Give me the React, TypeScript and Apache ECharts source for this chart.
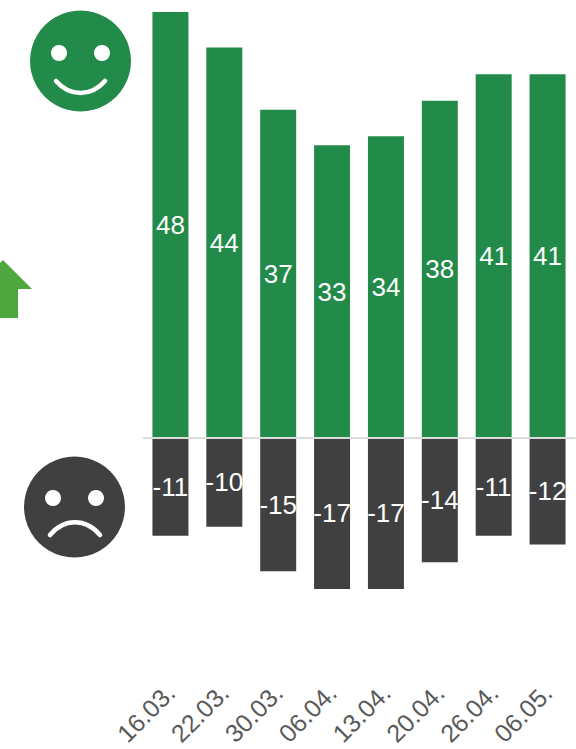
import React, { useEffect, useRef } from "react";
import * as echarts from "echarts";

const categories = ["16.03.", "22.03.", "30.03.", "06.04.", "13.04.", "20.04.", "26.04.", "06.05."];
const positiveValues = [48, 44, 37, 33, 34, 38, 41, 41];
const negativeValues = [-11, -10, -15, -17, -17, -14, -11, -12];

const GREEN = "#238b49";
const DARK = "#404040";

export default function App() {
  const ref = useRef<HTMLDivElement>(null);
  useEffect(() => {
    const chart = echarts.init(ref.current!, null, { renderer: "svg" });
    const label = {
      show: true,
      position: "inside",
      color: "#ffffff",
      fontFamily: "Liberation Sans",
      fontSize: 26,
    };
    chart.setOption({
      animation: false,
      backgroundColor: "#ffffff",
      grid: { left: 143.5, right: 1.5, top: 12, height: 674.5, containLabel: false, outerBoundsMode: "none" },
      xAxis: [
        {
          type: "category",
          data: categories,
          position: "bottom",
          axisLine: { show: false, onZero: false },
          axisTick: { show: false },
          axisLabel: {
            rotate: 45,
            interval: 0,
            margin: 2,
            color: "#595959",
            fontFamily: "Liberation Sans",
            fontSize: 25,
          },
        },
        {
          type: "category",
          data: categories,
          position: "bottom",
          z: 5,
          axisLine: { show: true, onZero: true, lineStyle: { color: "#dcdcdc", width: 2 } },
          axisTick: { show: false },
          axisLabel: { show: false },
        },
      ],
      yAxis: { type: "value", min: -28, max: 48, show: false, splitLine: { show: false } },
      series: [
        {
          type: "bar",
          stack: "s",
          data: positiveValues,
          barWidth: 36,
          itemStyle: { color: GREEN },
          label,
        },
        {
          type: "bar",
          stack: "s",
          data: negativeValues,
          barWidth: 36,
          itemStyle: { color: DARK },
          label,
        },
      ],
      graphic: [
        { type: "circle", shape: { cx: 80.5, cy: 61, r: 50.5 }, style: { fill: GREEN } },
        { type: "circle", shape: { cx: 59, cy: 53, r: 8 }, style: { fill: "#fff" } },
        { type: "circle", shape: { cx: 102, cy: 53, r: 8 }, style: { fill: "#fff" } },
        {
          type: "bezierCurve",
          shape: { x1: 56, y1: 81, x2: 105, y2: 81, cpx1: 70, cpy1: 97, cpx2: 91, cpy2: 97 },
          style: { fill: "none", stroke: "#fff", lineWidth: 4.5, lineCap: "round" },
        },
        { type: "circle", shape: { cx: 74.5, cy: 507, r: 50.5 }, style: { fill: DARK } },
        { type: "circle", shape: { cx: 53, cy: 498, r: 8 }, style: { fill: "#fff" } },
        { type: "circle", shape: { cx: 96, cy: 498, r: 8 }, style: { fill: "#fff" } },
        {
          type: "bezierCurve",
          shape: { x1: 50, y1: 535, x2: 100, y2: 535, cpx1: 64, cpy1: 518, cpx2: 86, cpy2: 518 },
          style: { fill: "none", stroke: "#fff", lineWidth: 4.5, lineCap: "round" },
        },
        {
          type: "polygon",
          shape: { points: [[3, 260], [32, 289], [18, 289], [18, 318], [0, 318], [0, 263]] },
          style: { fill: "#4ea63f" },
        },
      ],
    });
    return () => chart.dispose();
  }, []);
  return <div ref={ref} style={{ position: "fixed", left: 0, top: 0, width: 576, height: 749 }} />;
}
